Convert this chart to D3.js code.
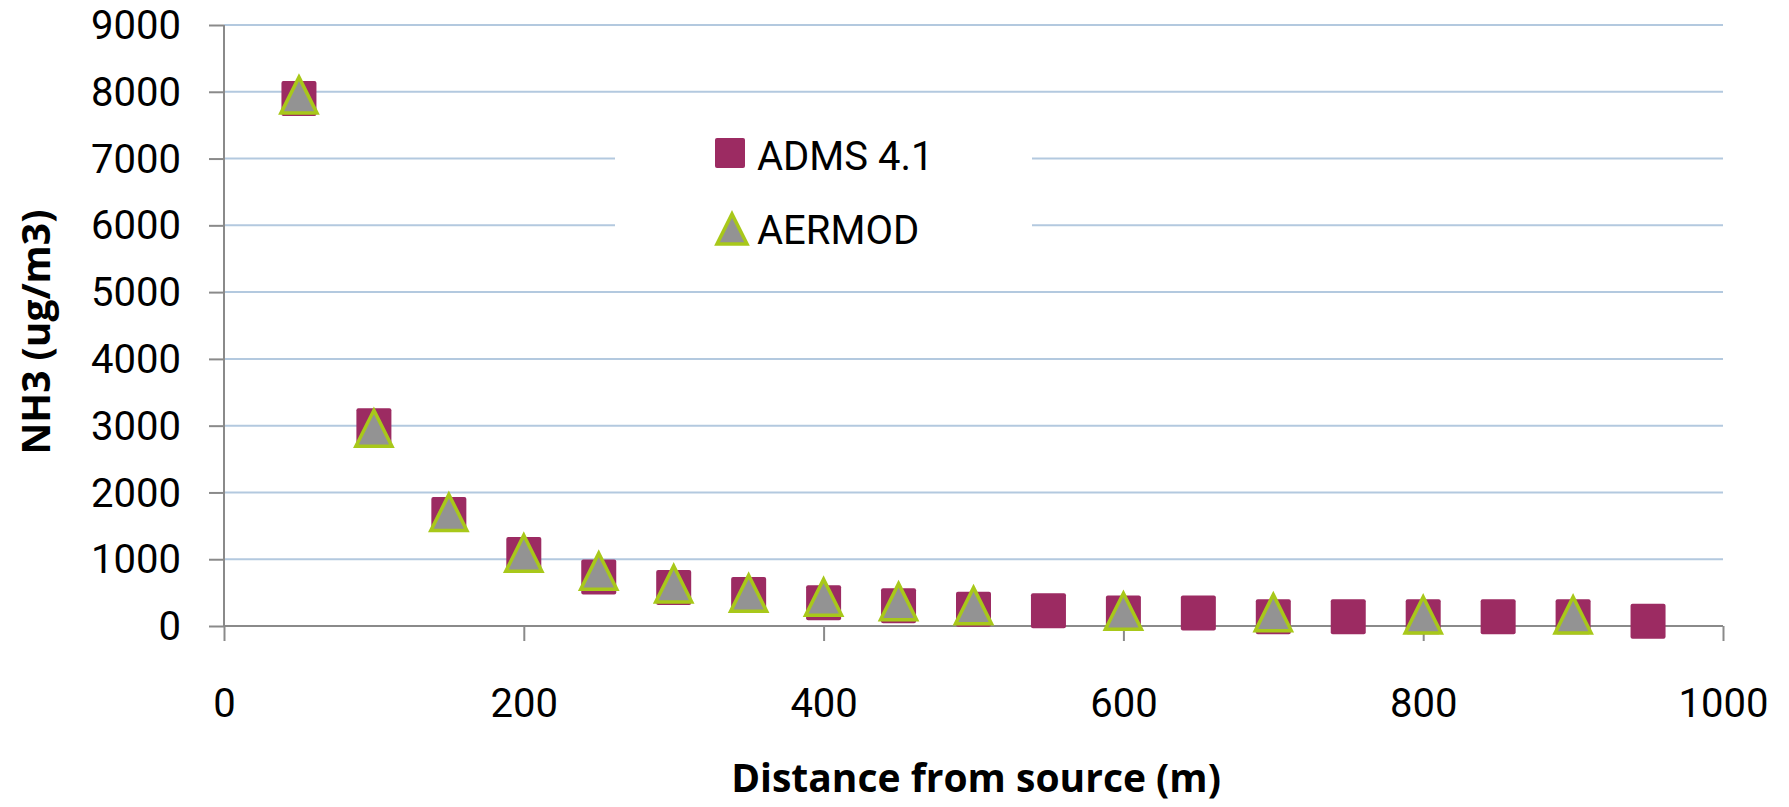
<!DOCTYPE html>
<html><head><meta charset="utf-8">
<script src="https://cdn.jsdelivr.net/npm/d3@7"></script>
<style>html,body{margin:0;padding:0;background:#fff;}svg{display:block;}</style>
</head><body>
<svg id="chart" width="1789" height="807"></svg>
<script>
// ---- data ----
const admsX = [50,100,150,200,250,300,350,400,450,500,550,600,650,700,750,800,850,900,950];
const admsY = [7900,3000,1670,1070,735,577,470,350,303,250,230,195,195,140,140,140,140,140,70];
const aermodX = [50,100,150,200,250,300,350,400,450,500,600,700,800,900];
const aermodY = [7950,2960,1700,1090,820,630,490,430,365,305,220,200,165,165];
const xTickValues = [0,200,400,600,800,1000];
const yTickValues = [0,1000,2000,3000,4000,5000,6000,7000,8000,9000];
const seriesNames = ["ADMS 4.1","AERMOD"];
const xTitle = "Distance from source (m)";
const yTitle = "NH3 (ug/m3)";

// ---- layout ----
const svg = d3.select("#chart");
const font = "'Open Sans', 'DejaVu Sans', sans-serif";
const tickFont = "Roboto, 'Open Sans', sans-serif";
const x = d3.scaleLinear().domain([0,1000]).range([224,1723]);
const y = d3.scaleLinear().domain([0,9000]).range([626,25]);
const sqColor = "#9c2b62", triFill = "#939393", triStroke = "#a8c81a";
const gridColor = "#b3c9df", axisColor = "#8a8a8a";

// gridlines
svg.append("g").selectAll("line").data(yTickValues.filter(d=>d>0)).join("line")
  .attr("x1", x(0)).attr("x2", x(1000))
  .attr("y1", d=>y(d)).attr("y2", d=>y(d))
  .attr("stroke", gridColor).attr("stroke-width", 2);

// legend background (white box over gridlines)
svg.append("rect").attr("x",615).attr("y",108).attr("width",417).attr("height",162).attr("fill","#fff");

// y axis
const yAxis = d3.axisLeft(y).tickValues(yTickValues).tickSize(15).tickPadding(28).tickFormat(d3.format("d"));
const gy = svg.append("g").attr("transform",`translate(${x(0)},0)`).call(yAxis);
// x axis
const xAxis = d3.axisBottom(x).tickValues(xTickValues).tickSize(15).tickPadding(48).tickFormat(d3.format("d"));
const gx = svg.append("g").attr("transform",`translate(0,${y(0)})`).call(xAxis);
[gx,gy].forEach(g=>{
  g.select(".domain").attr("stroke",axisColor).attr("stroke-width",2);
  g.selectAll(".tick line").attr("stroke",axisColor).attr("stroke-width",2);
  g.selectAll(".tick text").attr("fill","#000").style("font-family",tickFont).style("font-size","40px");
});
gy.selectAll(".tick text").attr("dy","0.34em");
gx.select(".domain").attr("d",`M${x(0)},0H${x(1000)}`);
gy.select(".domain").attr("d",`M0,${y(9000)}V${y(0)}`);

// axis titles
svg.append("text").attr("x",976).attr("y",792).attr("text-anchor","middle")
  .style("font-family",font).style("font-size","39px").style("font-weight","bold").text(xTitle);
svg.append("text").attr("transform",`translate(50,332) rotate(-90)`).attr("text-anchor","middle")
  .style("font-family",font).style("font-size","39px").style("font-weight","bold").text(yTitle);

// markers
const sq = 35;
svg.append("g").selectAll("rect").data(admsX.map((d,i)=>[d,admsY[i]])).join("rect")
  .attr("x", d=>x(d[0])-sq/2).attr("y", d=>y(d[1])-sq/2)
  .attr("width",sq).attr("height",sq).attr("rx",2).attr("fill",sqColor);
const tri = (cx,cy,w,h)=>`M${cx},${cy-h/2}L${cx+w/2},${cy+h/2}L${cx-w/2},${cy+h/2}Z`;
svg.append("g").selectAll("path").data(aermodX.map((d,i)=>[d,aermodY[i]])).join("path")
  .attr("d", d=>tri(x(d[0]),y(d[1]),36,36))
  .attr("fill",triFill).attr("stroke",triStroke).attr("stroke-width",3.5).attr("stroke-linejoin","miter");

// legend
const lg = svg.append("g");
lg.append("rect").attr("x",715).attr("y",138).attr("width",30).attr("height",30).attr("rx",2).attr("fill",sqColor);
lg.append("text").attr("x",757).attr("y",170).style("font-family",tickFont).style("font-size","40px").text(seriesNames[0]);
lg.append("path").attr("d",tri(732,229,30,30)).attr("fill",triFill).attr("stroke",triStroke).attr("stroke-width",3.5);
lg.append("text").attr("x",757).attr("y",244).style("font-family",tickFont).style("font-size","40px").text(seriesNames[1]);
</script>
</body></html>
